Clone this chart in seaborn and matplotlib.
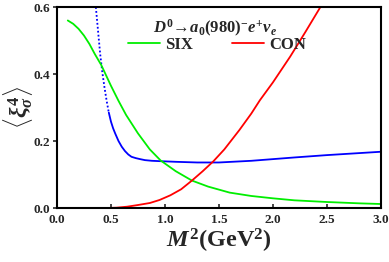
import numpy as np
import pandas as pd
import matplotlib
matplotlib.use("Agg")
import matplotlib.pyplot as plt
import seaborn as sns

# --- data ---
# blue curve: dotted (unstable) part, then solid part
blue_dot_x = [0.36, 0.38, 0.40, 0.42, 0.44, 0.46, 0.48]
blue_dot_y = [0.60, 0.53, 0.46, 0.405, 0.36, 0.32, 0.285]
blue_x = [0.48, 0.50, 0.52, 0.54, 0.57, 0.60, 0.63, 0.66, 0.69, 0.73, 0.77, 0.815,
          0.88, 0.95, 1.1, 1.3, 1.5, 1.8, 2.0, 2.2, 2.5, 2.8, 3.0]
blue_y = [0.285, 0.258, 0.238, 0.222, 0.200, 0.183, 0.170, 0.160, 0.153, 0.149,
          0.146, 0.143, 0.141, 0.140, 0.138, 0.136, 0.136, 0.141, 0.146, 0.151,
          0.158, 0.164, 0.168]

six_x = [0.10, 0.15, 0.20, 0.25, 0.30, 0.35, 0.41, 0.50, 0.57, 0.64, 0.75, 0.86,
         0.96, 1.1, 1.25, 1.4, 1.6, 1.8, 2.0, 2.2, 2.5, 2.8, 3.0]
six_y = [0.56, 0.55, 0.535, 0.515, 0.49, 0.46, 0.427, 0.365, 0.32, 0.278, 0.223,
         0.175, 0.142, 0.11, 0.082, 0.064, 0.046, 0.036, 0.029, 0.023, 0.018,
         0.014, 0.012]

con_x = [0.45, 0.55, 0.65, 0.75, 0.86, 0.95, 1.05, 1.15, 1.25, 1.35, 1.45, 1.55,
         1.69, 1.8, 1.88, 2.0, 2.16, 2.3, 2.44]
con_y = [0.0, 0.001, 0.004, 0.009, 0.015, 0.024, 0.038, 0.056, 0.082, 0.11, 0.14,
         0.175, 0.233, 0.282, 0.322, 0.375, 0.452, 0.525, 0.60]

x_ticks = [0.0, 0.5, 1.0, 1.5, 2.0, 2.5, 3.0]
y_ticks = [0.0, 0.2, 0.4, 0.6]

sns.set_style("ticks")
plt.rcParams['font.family'] = ['Liberation Serif', 'DejaVu Serif']
plt.rcParams['font.weight'] = 'bold'
plt.rcParams['mathtext.fontset'] = 'custom'
plt.rcParams['mathtext.rm'] = 'Liberation Serif:bold'
plt.rcParams['mathtext.it'] = 'Liberation Serif:bold:italic'
plt.rcParams['mathtext.bf'] = 'Liberation Serif:bold'

fig = plt.figure(figsize=(3.89, 2.62), dpi=100)
ax = fig.add_axes([0.1465, 0.206, 0.8325, 0.767])

sns.lineplot(x=blue_dot_x, y=blue_dot_y, color='#0000ff', lw=1.3, ls=(0, (1, 1.2)), ax=ax)
sns.lineplot(x=blue_x, y=blue_y, color='#0000ff', lw=1.3, ax=ax)
sns.lineplot(x=six_x, y=six_y, color='#00ee00', lw=1.3, ax=ax, label='SIX')
sns.lineplot(x=con_x, y=con_y, color='#ff0000', lw=1.3, ax=ax, label='CON')

ax.set_xlim(0, 3.0)
ax.set_ylim(0, 0.6)
ax.set_xticks(x_ticks)
ax.set_yticks(y_ticks)
ax.set_xticklabels([f"{v:.1f}" for v in x_ticks], fontsize=9.5, fontweight='bold')
ax.set_yticklabels([f"{v:.1f}" for v in y_ticks], fontsize=9.5, fontweight='bold')
ax.tick_params(axis='x', direction='in', length=3, width=1.2, pad=4)
ax.tick_params(axis='y', direction='out', length=3, width=1.2, pad=2)
for s in ax.spines.values():
    s.set_linewidth(1.5)
    s.set_color('black')

ax.set_xlabel(r'$M^2$(GeV$^2$)', fontsize=17.5, fontweight='bold', labelpad=1)
ax.set_ylabel(r'$\langle\xi_\sigma^4\rangle$', fontsize=17, va='center')
ax.yaxis.set_label_coords(-0.12, 0.5)

ax.text(0.488, 0.895, r'$D^0\!\rightarrow\! a_0(980)^{-}e^{+}\nu_e$', transform=ax.transAxes,
        ha='center', va='center', fontsize=12)
ax.legend(loc='center', bbox_to_anchor=(0.494, 0.81), ncol=2, frameon=False,
          handlelength=1.9, handletextpad=0.3, columnspacing=2.4,
          prop={'weight': 'bold', 'size': 12})

fig.savefig("out.png", dpi=100)
